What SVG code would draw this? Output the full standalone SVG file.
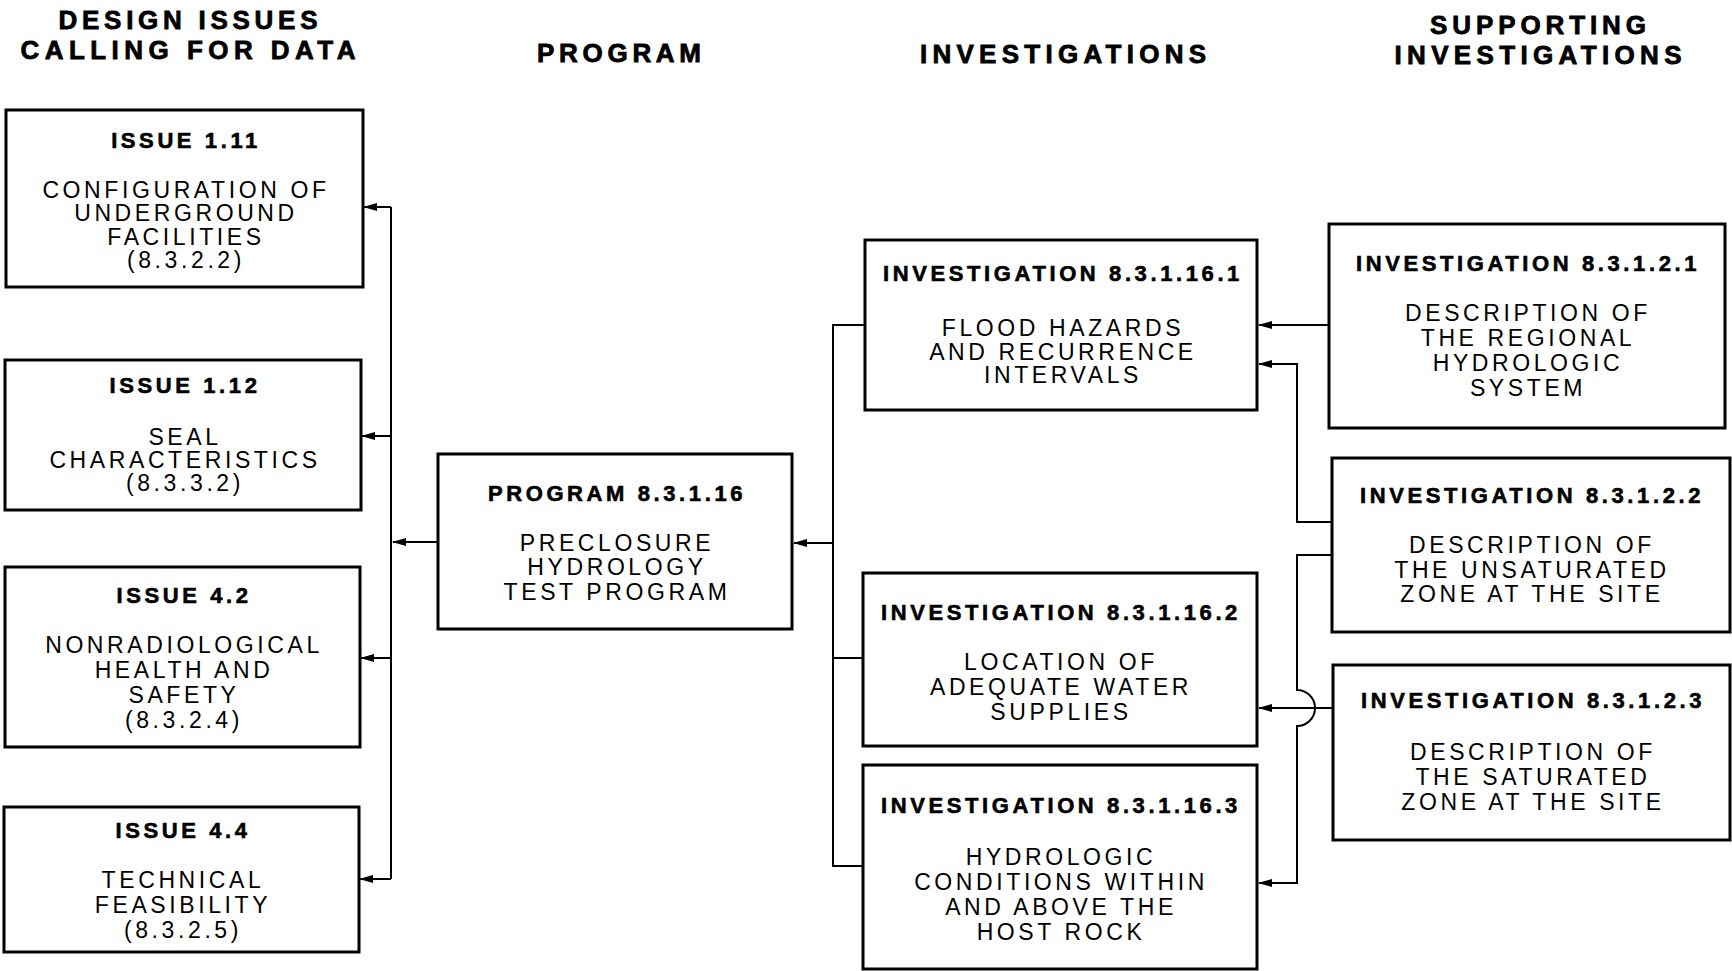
<svg xmlns="http://www.w3.org/2000/svg" width="1732" height="971" viewBox="0 0 1732 971">
<style>
.h{font-family:"Liberation Sans",Arial,sans-serif;font-weight:bold;font-size:26px;text-anchor:middle;fill:#000;stroke:#000;stroke-width:0.8px}
.t{font-family:"Liberation Sans",Arial,sans-serif;font-weight:bold;font-size:22px;letter-spacing:3.6px;text-anchor:middle;fill:#000;stroke:#000;stroke-width:0.6px}
.b{font-family:"Liberation Sans",Arial,sans-serif;font-size:23px;letter-spacing:3.6px;text-anchor:middle;fill:#000}
.box{fill:#fff;stroke:#000;stroke-width:3}
.c{fill:none;stroke:#000;stroke-width:2}
</style>
<defs>
<marker id="ah" markerWidth="14" markerHeight="10" refX="13" refY="5" orient="auto" markerUnits="userSpaceOnUse">
<path d="M0,1 L14,5 L0,9 z" fill="#000"/>
</marker>
</defs>
<rect width="1732" height="971" fill="#fff"/>

<g id="headers">
<text class="h" x="188" y="29" textLength="259">DESIGN ISSUES</text>
<text class="h" x="188" y="59" textLength="335">CALLING FOR DATA</text>
<text class="h" x="619" y="62" textLength="164">PROGRAM</text>
<text class="h" x="1063" y="63" textLength="286">INVESTIGATIONS</text>
<text class="h" x="1538" y="34" textLength="216">SUPPORTING</text>
<text class="h" x="1538" y="64" textLength="287">INVESTIGATIONS</text>
</g>

<g id="connectors">
<path class="c" d="M438,542 L393,542" marker-end="url(#ah)"/>
<path class="c" d="M391,207 L391,879"/>
<path class="c" d="M391,207 L364,207" marker-end="url(#ah)"/>
<path class="c" d="M391,436 L362,436" marker-end="url(#ah)"/>
<path class="c" d="M391,658 L361,658" marker-end="url(#ah)"/>
<path class="c" d="M391,879 L360,879" marker-end="url(#ah)"/>

<path class="c" d="M865,325 L833,325 L833,866 L863,866"/>
<path class="c" d="M833,658 L863,658"/>
<path class="c" d="M833,543 L794,543" marker-end="url(#ah)"/>

<path class="c" d="M1329,325 L1259,325" marker-end="url(#ah)"/>
<path class="c" d="M1332,522 L1297,522 L1297,364 L1259,364" marker-end="url(#ah)"/>
<path class="c" d="M1332,555 L1297,555 L1297,690 A18,18 0 0 1 1297,726 L1297,883 L1259,883" marker-end="url(#ah)"/>
<path class="c" d="M1333,708 L1259,708" marker-end="url(#ah)"/>
</g>

<g id="issue-1-11">
<rect class="box" x="6" y="110" width="357" height="177"/>
<text class="t" x="186" y="148">ISSUE 1.11</text>
<text class="b" x="186" y="198">CONFIGURATION OF</text>
<text class="b" x="186" y="221">UNDERGROUND</text>
<text class="b" x="186" y="245">FACILITIES</text>
<text class="b" x="186" y="268">(8.3.2.2)</text>
</g>

<g id="issue-1-12">
<rect class="box" x="5" y="360" width="356" height="150"/>
<text class="t" x="185" y="393">ISSUE 1.12</text>
<text class="b" x="185" y="445">SEAL</text>
<text class="b" x="185" y="468">CHARACTERISTICS</text>
<text class="b" x="185" y="491">(8.3.3.2)</text>
</g>

<g id="issue-4-2">
<rect class="box" x="5" y="567" width="355" height="180"/>
<text class="t" x="184" y="603">ISSUE 4.2</text>
<text class="b" x="184" y="653">NONRADIOLOGICAL</text>
<text class="b" x="184" y="678">HEALTH AND</text>
<text class="b" x="184" y="703">SAFETY</text>
<text class="b" x="184" y="728">(8.3.2.4)</text>
</g>

<g id="issue-4-4">
<rect class="box" x="4" y="807" width="355" height="145"/>
<text class="t" x="183" y="838">ISSUE 4.4</text>
<text class="b" x="183" y="888">TECHNICAL</text>
<text class="b" x="183" y="913">FEASIBILITY</text>
<text class="b" x="183" y="938">(8.3.2.5)</text>
</g>

<g id="program">
<rect class="box" x="438" y="454" width="354" height="175"/>
<text class="t" x="617" y="501">PROGRAM 8.3.1.16</text>
<text class="b" x="617" y="551">PRECLOSURE</text>
<text class="b" x="617" y="575">HYDROLOGY</text>
<text class="b" x="617" y="600">TEST PROGRAM</text>
</g>

<g id="inv-16-1">
<rect class="box" x="865" y="240" width="392" height="170"/>
<text class="t" x="1063" y="281">INVESTIGATION 8.3.1.16.1</text>
<text class="b" x="1063" y="336">FLOOD HAZARDS</text>
<text class="b" x="1063" y="360">AND RECURRENCE</text>
<text class="b" x="1063" y="383">INTERVALS</text>
</g>

<g id="inv-16-2">
<rect class="box" x="863" y="573" width="394" height="173"/>
<text class="t" x="1061" y="620">INVESTIGATION 8.3.1.16.2</text>
<text class="b" x="1061" y="670">LOCATION OF</text>
<text class="b" x="1061" y="695">ADEQUATE WATER</text>
<text class="b" x="1061" y="720">SUPPLIES</text>
</g>

<g id="inv-16-3">
<rect class="box" x="863" y="765" width="394" height="204"/>
<text class="t" x="1061" y="813">INVESTIGATION 8.3.1.16.3</text>
<text class="b" x="1061" y="865">HYDROLOGIC</text>
<text class="b" x="1061" y="890">CONDITIONS WITHIN</text>
<text class="b" x="1061" y="915">AND ABOVE THE</text>
<text class="b" x="1061" y="940">HOST ROCK</text>
</g>

<g id="sup-2-1">
<rect class="box" x="1329" y="224" width="396" height="204"/>
<text class="t" x="1528" y="271">INVESTIGATION 8.3.1.2.1</text>
<text class="b" x="1528" y="321">DESCRIPTION OF</text>
<text class="b" x="1528" y="346">THE REGIONAL</text>
<text class="b" x="1528" y="371">HYDROLOGIC</text>
<text class="b" x="1528" y="396">SYSTEM</text>
</g>

<g id="sup-2-2">
<rect class="box" x="1332" y="458" width="398" height="174"/>
<text class="t" x="1532" y="503">INVESTIGATION 8.3.1.2.2</text>
<text class="b" x="1532" y="553">DESCRIPTION OF</text>
<text class="b" x="1532" y="578">THE UNSATURATED</text>
<text class="b" x="1532" y="602">ZONE AT THE SITE</text>
</g>

<g id="sup-2-3">
<rect class="box" x="1333" y="665" width="397" height="175"/>
<text class="t" x="1533" y="708">INVESTIGATION 8.3.1.2.3</text>
<text class="b" x="1533" y="760">DESCRIPTION OF</text>
<text class="b" x="1533" y="785">THE SATURATED</text>
<text class="b" x="1533" y="810">ZONE AT THE SITE</text>
</g>
</svg>
